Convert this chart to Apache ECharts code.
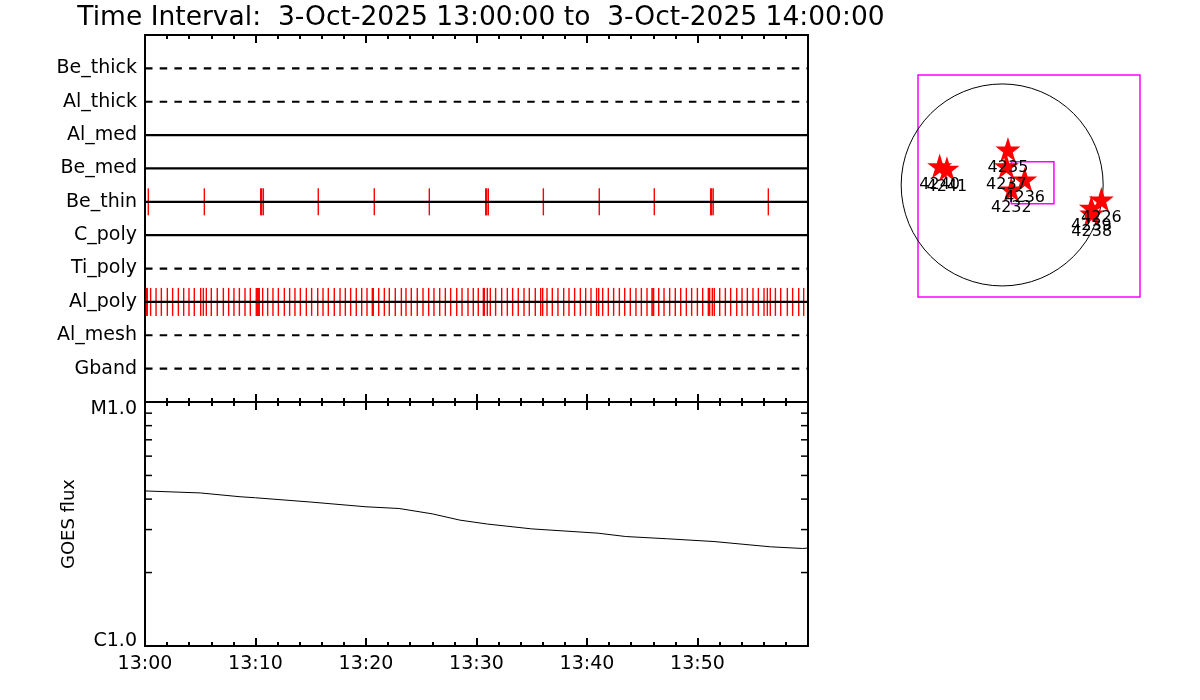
<!DOCTYPE html>
<html>
<head>
<meta charset="utf-8">
<script src="https://cdn.jsdelivr.net/npm/echarts@6/dist/echarts.min.js"></script>
<style>html,body{margin:0;padding:0;background:#fff}#c{width:1200px;height:700px}</style>
</head>
<body>
<div id="c"></div>
<script>
// ---------- DATA ----------
const titleText = 'Time Interval:  3-Oct-2025 13:00:00 to  3-Oct-2025 14:00:00';
const rowNames = ['Be_thick','Al_thick','Al_med','Be_med','Be_thin','C_poly','Ti_poly','Al_poly','Al_mesh','Gband'];
const rowDashed = [true, true, false, false, false, false, true, false, true, true];
const timeTickLabels = ['13:00','13:10','13:20','13:30','13:40','13:50',''];
// event times, minutes after 13:00
const beThinTimes = [0.30,5.37,10.47,10.56,10.71,15.68,20.75,25.73,30.83,30.92,31.07,36.05,41.11,46.09,51.19,51.28,51.42,56.41];
const alPolyTimes = [0.12,0.21,0.51,1.00,1.48,2.02,2.50,3.02,3.50,3.98,4.46,5.04,5.28,5.55,6.00,6.54,7.09,7.57,8.05,8.54,9.05,9.53,
  10.07,10.16,10.25,10.34,10.65,11.10,11.58,12.07,12.61,13.09,13.57,14.06,14.60,15.08,15.63,16.11,16.59,17.13,17.65,18.13,18.61,19.12,19.61,
  20.09,20.57,20.66,21.15,21.66,22.11,22.65,23.20,23.62,24.10,24.64,25.16,25.67,26.15,26.67,27.18,27.66,28.21,28.69,29.23,29.71,
  30.16,30.62,30.71,30.98,31.25,31.73,32.28,32.79,33.27,33.78,34.30,34.78,35.32,35.81,35.99,36.38,36.86,37.37,37.89,38.37,38.88,39.40,39.88,
  40.36,40.87,41.06,41.42,41.93,42.41,42.93,43.41,43.92,44.43,44.92,45.43,45.88,45.97,46.03,46.49,46.97,47.48,47.99,48.48,48.99,49.47,49.99,
  50.47,50.98,51.10,51.34,51.52,52.01,52.52,53.00,53.55,54.03,54.51,55.02,55.51,56.02,56.32,56.59,57.05,57.53,58.13,58.61,59.16,59.61];
const goesTimes = [0, 5, 8.6, 10, 15, 20, 23, 26, 28.5, 31, 35, 41, 43.5, 47.3, 51.5, 54.2, 56.6, 59.5, 60];
const goesFlux = [4.32e-6, 4.24e-6, 4.09e-6, 4.05e-6, 3.89e-6, 3.72e-6, 3.66e-6, 3.48e-6, 3.28e-6, 3.16e-6, 3.02e-6, 2.90e-6, 2.81e-6, 2.75e-6, 2.68e-6, 2.61e-6, 2.55e-6, 2.51e-6, 2.52e-6];
const goesMin = 1e-6, goesMax = 1e-5;
const goesLabels = {min: 'C1.0', max: 'M1.0'};
const goesMinorTicks = [2e-6,3e-6,4e-6,5e-6,6e-6,7e-6,8e-6,9e-6];
// solar map (arcsec)
const mapXRange = [-800, 1310];
const mapYRange = [-1065, 1045];
const sunCenter = [0, 0];
const regionIds = ['4240','4241','4235','4237','4236','4232','4226','4239','4238'];
const regionX = [-594, -525, 55, 40, 214, 87, 943, 848, 851];
const regionY = [179, 154, 337, 179, 52, -43, -138, -217, -271];
const fovBox = [[87, 220], [492, -179]];

// ---------- CHART ----------
const FONT = 'DejaVu Sans';
const chart = echarts.init(document.getElementById('c'), null, {renderer: 'canvas'});
const starPath = 'path://M50,0 L61.2,34.5 L97.6,34.5 L68.2,55.9 L79.4,90.5 L50,69.1 L20.6,90.5 L31.8,55.9 L2.4,34.5 L38.8,34.5 Z';

const xCommon = {
  type: 'value', min: 0, max: 60, interval: 10,
  axisLine: {show: false},
  splitLine: {show: false},
  axisTick: {show: true, inside: true, length: 8, lineStyle: {color: '#000', width: 2}},
  minorTick: {show: true, splitNumber: 5, length: 4, lineStyle: {color: '#000', width: 2}},
  axisLabel: {show: false}
};

const series = [];
// red event ticks (below lines)
series.push({
  type: 'scatter', xAxisIndex: 0, yAxisIndex: 0, silent: true,
  symbol: 'rect', symbolSize: [1.4, 27],
  itemStyle: {color: '#ff0000', opacity: 1},
  data: beThinTimes.map(t => [t, rowNames.indexOf('Be_thin') + 1]), z: 2
});
series.push({
  type: 'scatter', xAxisIndex: 0, yAxisIndex: 0, silent: true,
  symbol: 'rect', symbolSize: [1.4, 28],
  itemStyle: {color: '#ff0000', opacity: 1},
  data: alPolyTimes.map(t => [t, rowNames.indexOf('Al_poly') + 1]), z: 2
});
rowNames.forEach((name, i) => {
  series.push({
    type: 'line', xAxisIndex: 0, yAxisIndex: 0, silent: true, symbol: 'none',
    lineStyle: {color: '#000', width: 2.2, type: rowDashed[i] ? [7.5, 7.2] : 'solid'},
    data: [[0, i + 1], [60, i + 1]], z: 3
  });
});
// GOES curve
series.push({
  type: 'line', xAxisIndex: 2, yAxisIndex: 1, silent: true, symbol: 'none',
  lineStyle: {color: '#000', width: 1},
  data: goesTimes.map((t, i) => [t, goesFlux[i]]), z: 3
});
// GOES minor ticks left & right
series.push({
  type: 'scatter', xAxisIndex: 2, yAxisIndex: 1, silent: true,
  symbol: 'rect', symbolSize: [7, 1.5], symbolOffset: [3.5, 0],
  itemStyle: {color: '#000', opacity: 1},
  data: goesMinorTicks.map(v => [0, v]), z: 4
});
series.push({
  type: 'scatter', xAxisIndex: 2, yAxisIndex: 1, silent: true,
  symbol: 'rect', symbolSize: [7, 1.5], symbolOffset: [-3.5, 0],
  itemStyle: {color: '#000', opacity: 1},
  data: goesMinorTicks.map(v => [60, v]), z: 4
});
// Sun limb
series.push({
  type: 'scatter', xAxisIndex: 4, yAxisIndex: 2, silent: true,
  symbol: 'circle', symbolSize: 202,
  itemStyle: {color: 'rgba(0,0,0,0)', borderColor: '#000', borderWidth: 1, opacity: 1},
  data: [sunCenter], z: 2
});
// active regions
series.push({
  type: 'scatter', xAxisIndex: 4, yAxisIndex: 2, silent: true,
  symbol: starPath, symbolSize: 25,
  itemStyle: {color: '#ff0000', opacity: 1},
  label: {show: true, position: 'bottom', distance: -2, color: '#000', fontFamily: FONT, fontSize: 16,
    formatter: p => regionIds[p.dataIndex]},
  data: regionX.map((x, i) => [x, regionY[i]]),
  markArea: {
    silent: true,
    itemStyle: {color: 'rgba(0,0,0,0)', borderColor: '#ff00ff', borderWidth: 1.5, opacity: 1},
    data: [[{coord: fovBox[0]}, {coord: fovBox[1]}]]
  },
  z: 3
});

const option = {
  backgroundColor: '#fff',
  animation: false,
  title: {
    text: titleText, left: 476, top: 0, textAlign: 'center',
    textStyle: {fontFamily: FONT, fontSize: 26.5, fontWeight: 'normal', color: '#000'}
  },
  grid: [
    {left: 145, top: 35, width: 663, height: 367, show: true, borderColor: '#000', borderWidth: 2, backgroundColor: 'transparent'},
    {left: 145, top: 402, width: 663, height: 244, show: true, borderColor: '#000', borderWidth: 2, backgroundColor: 'transparent'},
    {left: 918, top: 75, width: 222, height: 222, show: true, borderColor: '#ff00ff', borderWidth: 1.5, backgroundColor: 'transparent'}
  ],
  xAxis: [
    Object.assign({}, xCommon, {gridIndex: 0, position: 'top'}),
    Object.assign({}, xCommon, {gridIndex: 0, position: 'bottom'}),
    Object.assign({}, xCommon, {gridIndex: 1, position: 'bottom',
      axisLabel: {show: true, margin: 9, color: '#000', fontFamily: FONT, fontSize: 19,
        formatter: v => timeTickLabels[Math.round(v / 10)]}}),
    Object.assign({}, xCommon, {gridIndex: 1, position: 'top'}),
    {gridIndex: 2, type: 'value', min: mapXRange[0], max: mapXRange[1], show: false}
  ],
  yAxis: [
    {gridIndex: 0, type: 'value', min: 0, max: 11, interval: 1, inverse: true,
      axisLine: {show: false}, axisTick: {show: false}, splitLine: {show: false},
      axisLabel: {show: true, margin: 8, color: '#000', fontFamily: FONT, fontSize: 19,
        formatter: v => rowNames[v - 1] || ''}},
    {gridIndex: 1, type: 'log', logBase: 10, min: goesMin, max: goesMax,
      axisLine: {show: false}, axisTick: {show: false}, splitLine: {show: false}, minorTick: {show: false},
      name: 'GOES flux', nameLocation: 'middle', nameGap: 67, nameRotate: 90,
      nameTextStyle: {color: '#000', fontFamily: FONT, fontSize: 18},
      axisLabel: {show: true, margin: 8, color: '#000', fontFamily: FONT, fontSize: 19,
        formatter: v => v >= goesMax * 0.99 ? '{top|' + goesLabels.max + '}' : (v <= goesMin * 1.01 ? '{bot|' + goesLabels.min + '}' : ''),
        rich: {
          top: {fontFamily: FONT, fontSize: 19, color: '#000', padding: [14, 0, 0, 0]},
          bot: {fontFamily: FONT, fontSize: 19, color: '#000', padding: [0, 0, 10, 0]}
        }}},
    {gridIndex: 2, type: 'value', min: mapYRange[0], max: mapYRange[1], show: false}
  ],
  series: series
};
chart.setOption(option);
</script>
</body>
</html>
